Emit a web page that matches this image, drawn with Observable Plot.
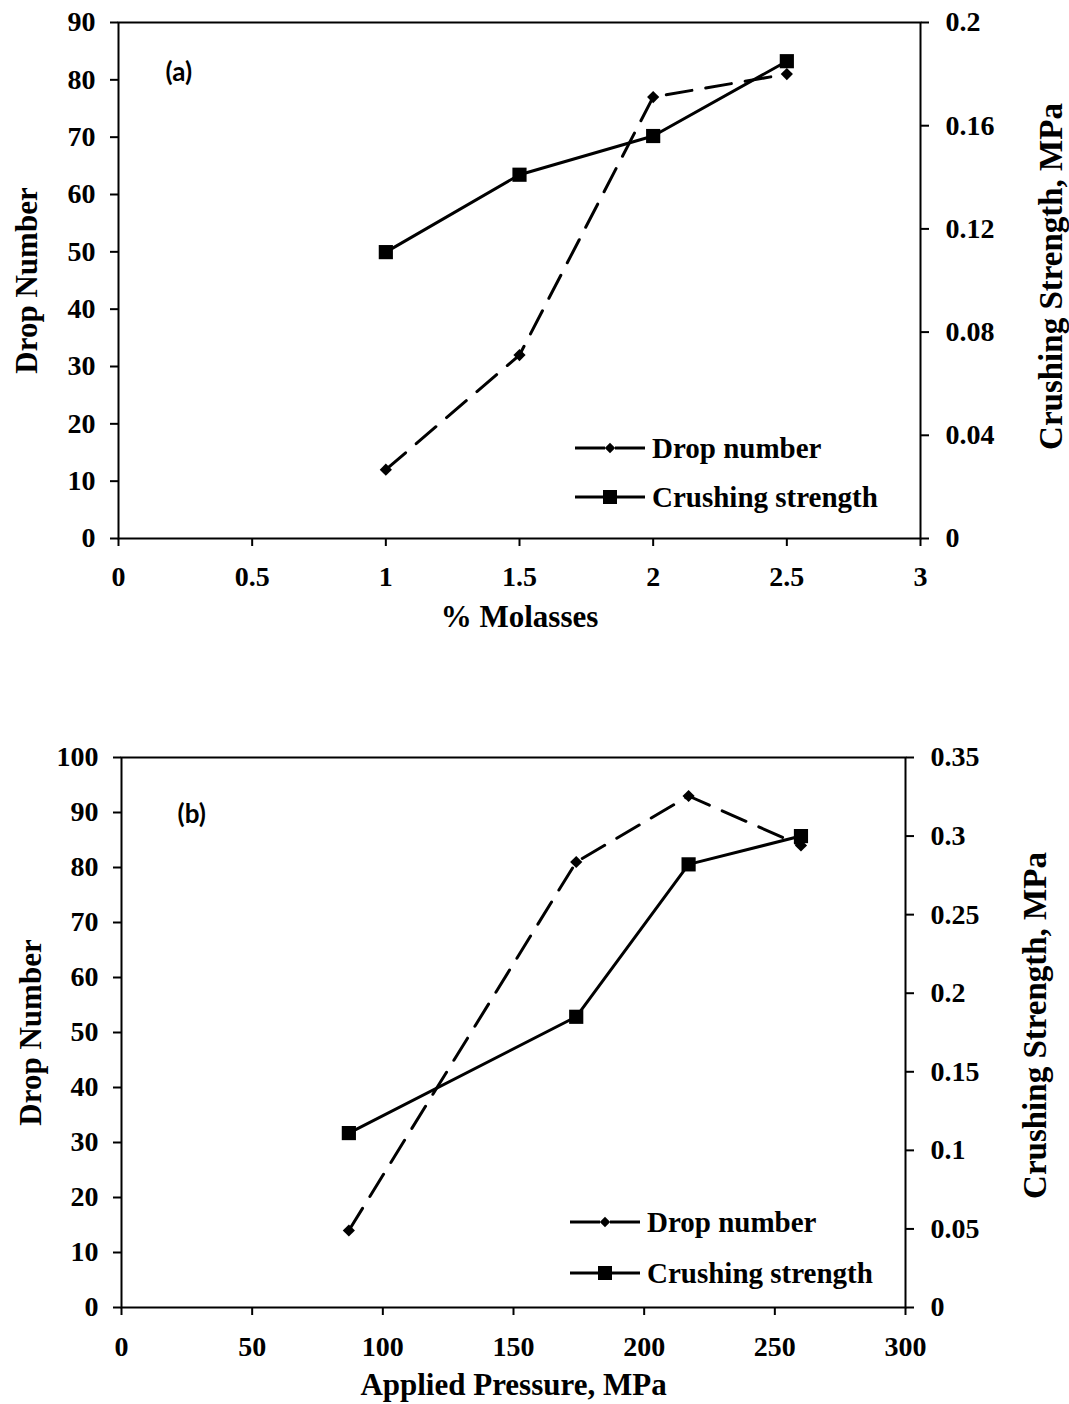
<!DOCTYPE html>
<html>
<head>
<meta charset="utf-8">
<script src="https://cdn.jsdelivr.net/npm/d3@7"></script>
<script src="https://cdn.jsdelivr.net/npm/@observablehq/plot@0.6"></script>
<style>
  html, body { margin: 0; padding: 0; background: #fff; }
  #root { position: relative; width: 1069px; height: 1404px; }
  #root svg { display: block; }
</style>
</head>
<body>
<div id="root"></div>
<script>
// ---------- Data: panel (a) ----------
const molasses = [1, 1.5, 2, 2.5];
const dropA = [12, 32, 77, 81];
const crushA = [0.111, 0.141, 0.156, 0.185];
const xTicksA = [0, 0.5, 1, 1.5, 2, 2.5, 3];
const yTicksA = [0, 10, 20, 30, 40, 50, 60, 70, 80, 90];
const rTicksA = [0, 0.04, 0.08, 0.12, 0.16, 0.2];
const rLabelsA = ["0", "0.04", "0.08", "0.12", "0.16", "0.2"];

// ---------- Data: panel (b) ----------
const pressure = [87, 174, 217, 260];
const dropB = [14, 81, 93, 84];
const crushB = [0.111, 0.185, 0.282, 0.300];
const xTicksB = [0, 50, 100, 150, 200, 250, 300];
const yTicksB = [0, 10, 20, 30, 40, 50, 60, 70, 80, 90, 100];
const rTicksB = [0, 0.05, 0.1, 0.15, 0.2, 0.25, 0.3, 0.35];
const rLabelsB = ["0", "0.05", "0.1", "0.15", "0.2", "0.25", "0.3", "0.35"];

const seriesNames = ["Drop number", "Crushing strength"];

const SERIF = "'Liberation Serif', 'Times New Roman', serif";

function panel(cfg) {
  const k = cfg.yMax / cfg.rMax; // right-axis value -> left-axis units
  const drop = cfg.xs.map((x, i) => ({x, y: cfg.drop[i]}));
  const crush = cfg.xs.map((x, i) => ({x, y: cfg.crush[i] * k}));
  const svg = Plot.plot({
    width: 1069,
    height: cfg.height,
    marginTop: cfg.mt, marginBottom: cfg.mb, marginLeft: cfg.ml, marginRight: cfg.mr,
    style: {fontFamily: SERIF, fontSize: "28px", fontWeight: "bold", color: "#000", background: "#fff", overflow: "visible"},
    x: {domain: cfg.xDomain},
    y: {domain: [0, cfg.yMax]},
    marks: [
      Plot.axisX(cfg.xTicks, {tickSize: 8, tickPadding: cfg.xPad, strokeWidth: 2, tickFormat: d => String(d), label: null}),
      Plot.axisY(cfg.yTicks, {anchor: "left", tickSize: 8, tickPadding: 15, strokeWidth: 2, label: null}),
      Plot.axisY(cfg.rTicks.map(v => v * k), {anchor: "right", tickSize: 8, tickPadding: 17, strokeWidth: 2,
        tickFormat: (d, i) => cfg.rLabels[i], label: null}),
      Plot.frame({stroke: "#000", strokeWidth: 2}),
      Plot.line(drop, {x: "x", y: "y", stroke: "#000", strokeWidth: 3, strokeDasharray: "26,14"}),
      Plot.dot(drop, {x: "x", y: "y", symbol: "diamond2", r: 5.5, fill: "#000", stroke: "none"}),
      Plot.line(crush, {x: "x", y: "y", stroke: "#000", strokeWidth: 3}),
      Plot.dot(crush, {x: "x", y: "y", symbol: "square", r: 8, fill: "#000", stroke: "none"}),
      Plot.text([cfg.tag], {frameAnchor: "top-left", dx: cfg.tagDx, dy: cfg.tagDy, text: d => d,
        fontFamily: "Lato, 'Open Sans', sans-serif", fontSize: 26, fontWeight: "bold", textAnchor: "start", lineAnchor: "middle"}),
      Plot.text([cfg.xTitle], {frameAnchor: "bottom", dy: cfg.xTitleDy, text: d => d, fontSize: 31, textAnchor: "middle", lineAnchor: "middle"}),
      Plot.text(["Drop Number"], {frameAnchor: "left", dx: cfg.lTitleDx, text: d => d, fontSize: 31, rotate: -90, textAnchor: "middle", lineAnchor: "middle"}),
      Plot.text(["Crushing Strength, MPa"], {frameAnchor: "right", dx: cfg.rTitleDx, dy: cfg.rTitleDy, text: d => d, fontSize: 33, rotate: -90, textAnchor: "middle", lineAnchor: "middle"})
    ]
  });
  svg.style.position = "absolute";
  svg.style.left = "0px";
  svg.style.top = cfg.top + "px";

  // legend (pixel placement inside the plot's svg)
  const g = d3.select(svg).append("g");
  seriesNames.forEach((name, i) => {
    const yy = cfg.legY + i * cfg.legGap;
    const row = g.append("g").attr("transform", `translate(${cfg.legX},${yy})`);
    row.append("line").attr("x1", 0).attr("x2", 30).attr("y1", 0).attr("y2", 0).attr("stroke", "#000").attr("stroke-width", 3);
    row.append("line").attr("x1", 40).attr("x2", 70).attr("y1", 0).attr("y2", 0).attr("stroke", "#000").attr("stroke-width", 3);
    if (i === 0) {
      row.append("path").attr("d", d3.symbol(d3.symbolDiamond2, 70)()).attr("transform", "translate(35,0)").attr("fill", "#000");
    } else {
      row.append("rect").attr("x", 28).attr("y", -7).attr("width", 14).attr("height", 14).attr("fill", "#000");
    }
    row.append("text").attr("x", 77).attr("y", 0).attr("dy", "0.35em")
      .attr("text-anchor", "start")
      .attr("font-family", SERIF).attr("font-size", 29).attr("font-weight", "bold").attr("fill", "#000")
      .text(name);
  });
  return svg;
}

const root = document.getElementById("root");
root.appendChild(panel({
  top: 0, height: 640, mt: 22, mb: 102, ml: 118, mr: 149,
  xs: molasses, drop: dropA, crush: crushA,
  xDomain: [0, 3], yMax: 90, rMax: 0.2,
  xTicks: xTicksA, yTicks: yTicksA, rTicks: rTicksA, rLabels: rLabelsA, xPad: 20,
  tag: "(a)", tagDx: 47, tagDy: 50,
  xTitle: "% Molasses", xTitleDy: 79, lTitleDx: -91, rTitleDx: 131, rTitleDy: -4,
  legX: 575, legY: 448, legGap: 49
}));
root.appendChild(panel({
  top: 640, height: 764, mt: 117, mb: 97, ml: 121, mr: 164,
  xs: pressure, drop: dropB, crush: crushB,
  xDomain: [0, 300], yMax: 100, rMax: 0.35,
  xTicks: xTicksB, yTicks: yTicksB, rTicks: rTicksB, rLabels: rLabelsB, xPad: 21,
  tag: "(b)", tagDx: 56, tagDy: 57,
  xTitle: "Applied Pressure, MPa", xTitleDy: 78, lTitleDx: -90, rTitleDx: 130, rTitleDy: -7,
  legX: 570, legY: 582, legGap: 51
}));
</script>
</body>
</html>
